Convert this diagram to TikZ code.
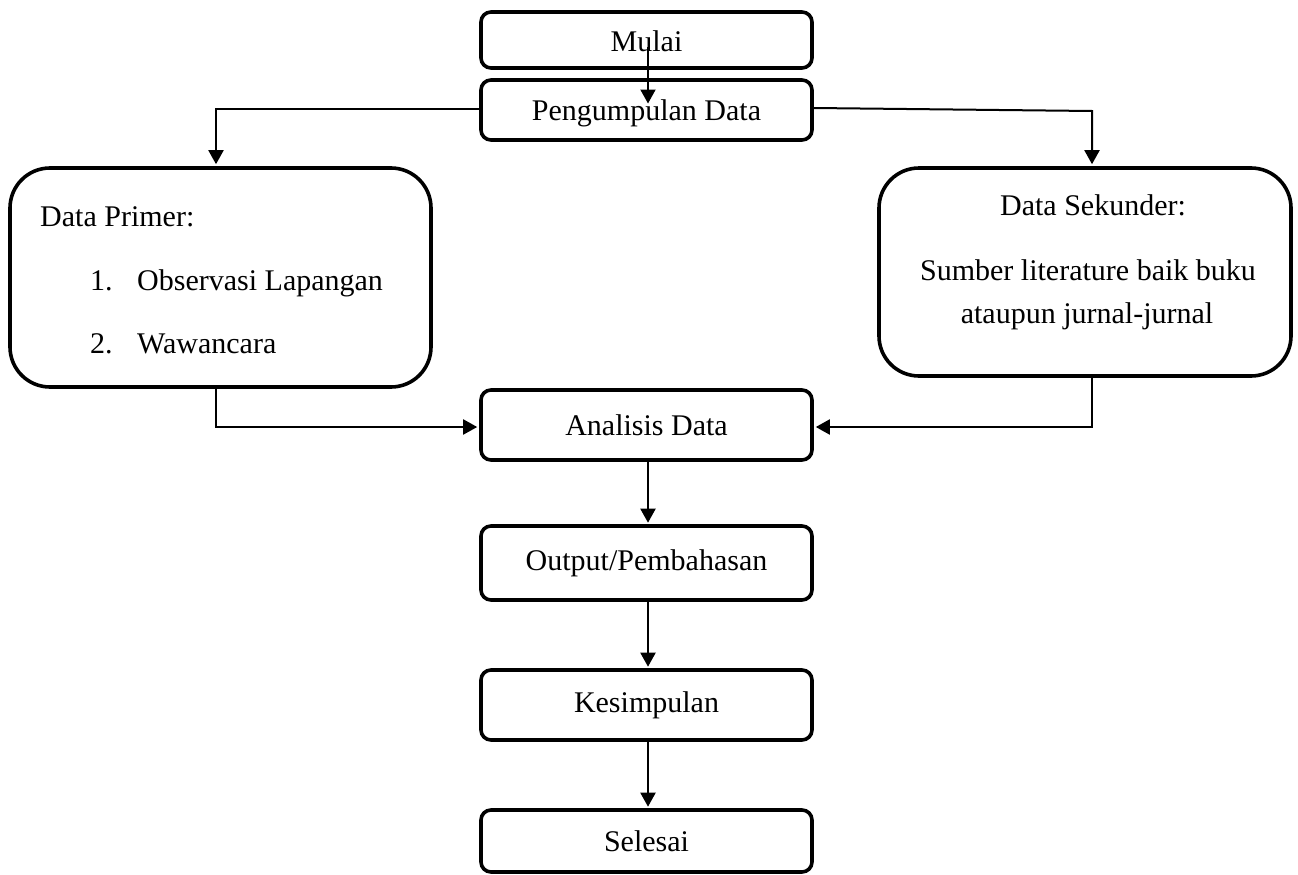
\documentclass[tikz,border=0pt]{standalone}
\usepackage{fontspec}
\setmainfont{Liberation Serif}
\usetikzlibrary{arrows.meta,calc}
\begin{document}
\begin{tikzpicture}[x=1pt,y=-1pt,
  box/.style={draw, line width=3.6pt, rounded corners=10pt, minimum width=331pt, inner sep=0pt, font=\fontsize{30}{36}\selectfont},
  bigbox/.style={draw, line width=3.6pt, rounded corners=40pt, inner sep=0pt},
  arr/.style={line width=2pt, -{Triangle[length=14pt,width=15pt]}},
  lbl/.style={font=\fontsize{30}{36}\selectfont, inner sep=0pt}]
\useasboundingbox (0,0) rectangle (1298,875);

\node[box, minimum height=56pt, text height=24pt, text depth=0pt] (mulai) at (646.5,40) {Mulai};
\node[box, minimum height=60pt, text height=20pt, text depth=0pt] (peng) at (646.5,110) {Pengumpulan Data};
\node[bigbox, minimum width=421pt, minimum height=219pt] (primer) at (220.5,277.5) {};
\node[bigbox, minimum width=412pt, minimum height=208pt] (sek) at (1085,272) {};
\node[box, minimum height=70pt] (ana) at (646.5,425) {Analisis Data};
\node[box, minimum height=74pt] (out) at (646.5,563) {Output/Pembahasan};
\node[box, minimum height=70pt] (kes) at (646.5,705) {Kesimpulan};
\node[box, minimum height=62pt] (sel) at (646.5,841) {Selesai};

\node[lbl, anchor=base west] (p0) at (40,226) {Data Primer:};
\node[lbl, anchor=base west] (p1n) at (90,290) {1.};
\node[lbl, anchor=base west] (p1) at (137,290) {Observasi Lapangan};
\node[lbl, anchor=base west] (p2n) at (90,353) {2.};
\node[lbl, anchor=base west] (p2) at (137,353) {Wawancara};
\node[lbl, anchor=base] (s0) at (1093,215) {Data Sekunder:};
\node[lbl, anchor=base] (s1) at (1088,280) {Sumber literature baik buku};
\node[lbl, anchor=base] (s2) at (1087,323) {ataupun jurnal-jurnal};

\coordinate (mt) at ($(mulai.center)+(1.5,7)$);
\coordinate (mb) at ($(peng.center)+(1.5,-6.5)$);
\draw[arr] (mt) -- (mb);

\draw[arr] ($(peng.west)+(0,-1)$) -| ($(primer.north)+(-4.5,-2)$);
\coordinate (rc) at (1092,111);
\draw[arr] ($(peng.east)+(0,-2)$) -- (rc) -- ($(sek.north)+(7,-2)$);

\draw[arr] ($(primer.south)+(-4.5,0)$) |- ($(ana.west)+(-2,2)$);
\draw[arr] ($(sek.south)+(7,0)$) |- ($(ana.east)+(2,2)$);

\draw[arr] ($(ana.south)+(1.5,0)$) -- ($(out.north)+(1.5,-1.5)$);
\draw[arr] ($(out.south)+(1.5,0)$) -- ($(kes.north)+(1.5,-1.5)$);
\draw[arr] ($(kes.south)+(1.5,0)$) -- ($(sel.north)+(1.5,-1.5)$);
\end{tikzpicture}
\end{document}
